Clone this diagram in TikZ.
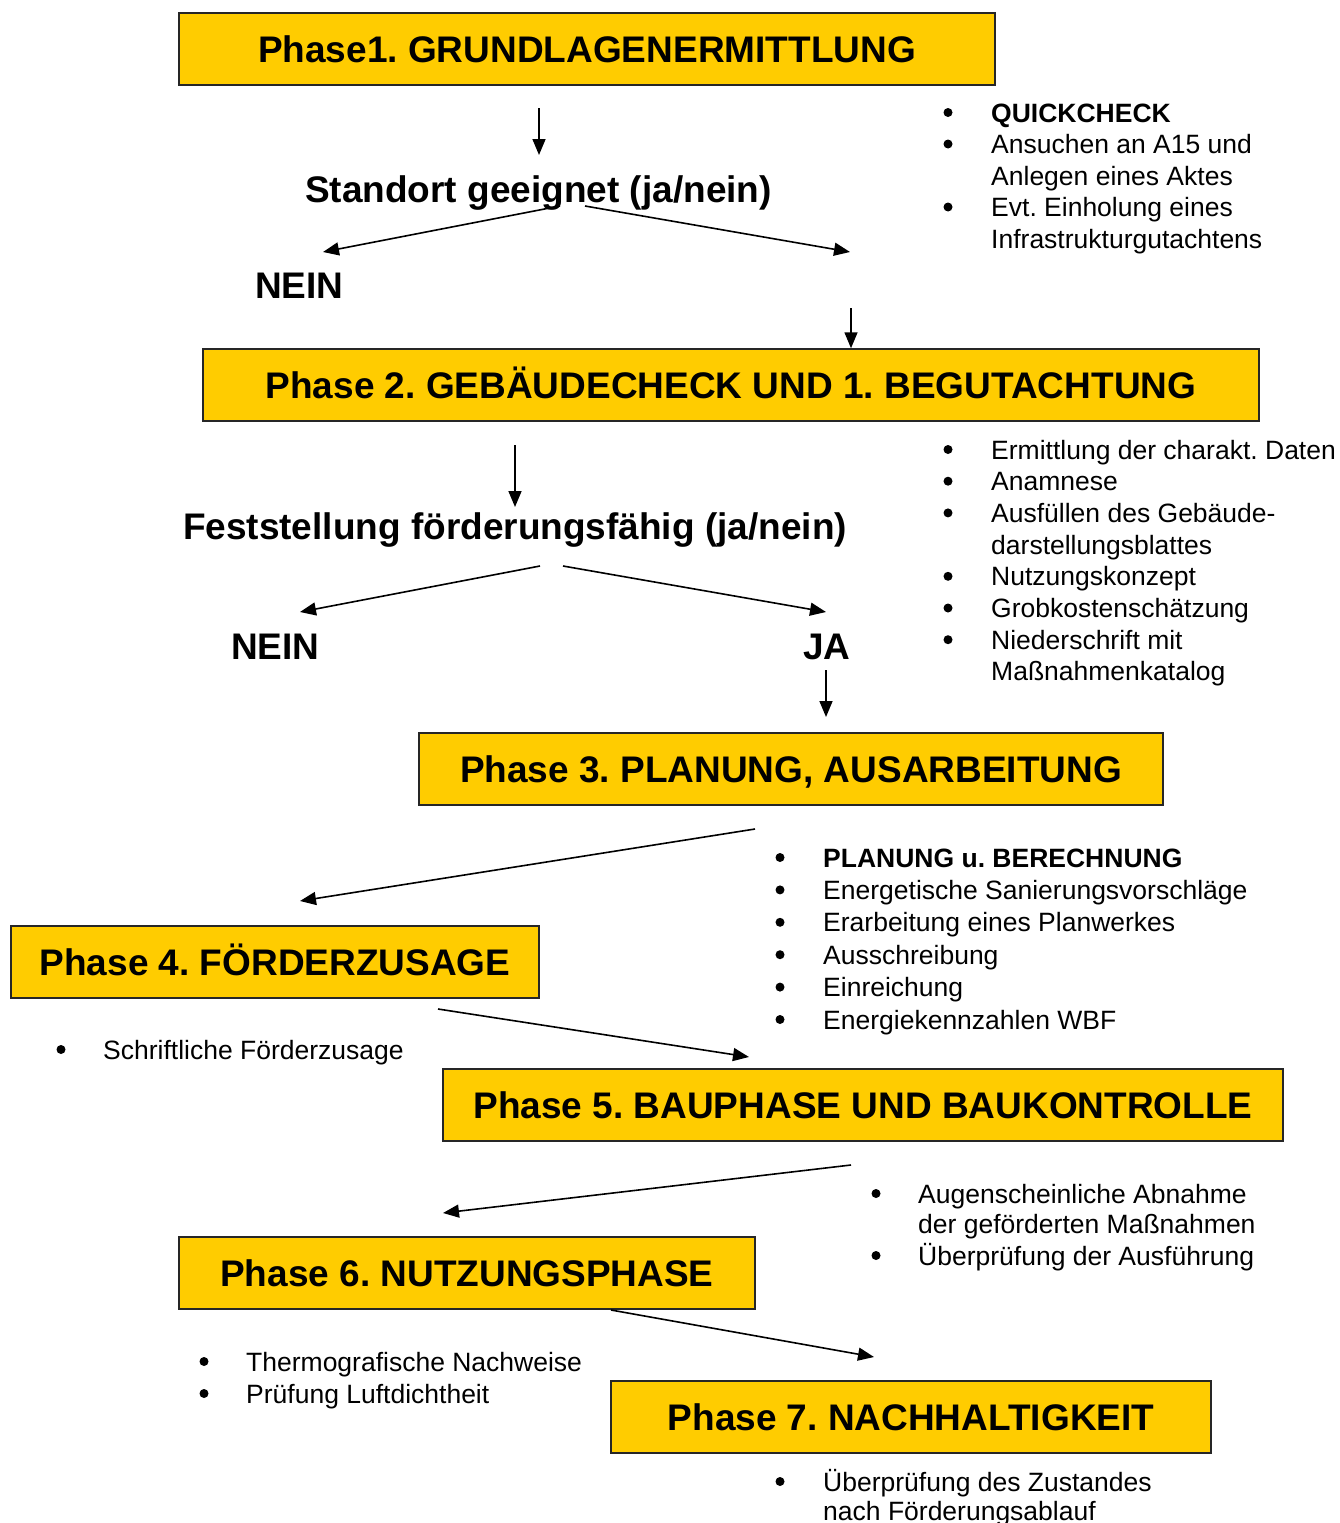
\documentclass[tikz,border=0pt]{standalone}
\usepackage{fontspec}
\setmainfont{Liberation Sans}
\usetikzlibrary{arrows.meta}
\definecolor{boxyellow}{HTML}{FFCC00}
\frenchspacing
\newcommand\bitem[5]{%
  \node[bdot] (#1d) at (#2,#4-9.5) {};
  \node[item] (#1) at (#3,#4) {#5};}
\begin{document}
\frenchspacing
\begin{tikzpicture}[x=1pt,y=-1pt,
  phase/.style={draw=black!85, line width=1.5pt, fill=boxyellow, minimum height=72pt,
    inner sep=0pt, font=\fontsize{37}{44}\bfseries\selectfont, text height=26.5pt, text depth=0pt},
  head/.style={font=\fontsize{37}{44}\bfseries\selectfont, inner sep=0pt, anchor=base},
  item/.style={font=\fontsize{26.5}{32}\selectfont, inner sep=0pt, anchor=base west},
  bdot/.style={circle, fill=black, inner sep=0pt, minimum size=9pt},
  arr/.style={line width=1.6pt, -{Triangle[length=16pt,width=13pt]}}]
\useasboundingbox (0,0) rectangle (1339,1523);
\fill[white] (0,0) rectangle (1339,1523);

% phase boxes
\node[phase, minimum width=816pt] (p1) at (587,49) {Phase1. GRUNDLAGENERMITTLUNG};
\node[phase, minimum width=1056pt] (p2) at (731,385) {Phase 2. GEBÄUDECHECK UND 1. BEGUTACHTUNG};
\node[phase, minimum width=744pt] (p3) at (791,769) {Phase 3. PLANUNG, AUSARBEITUNG};
\node[phase, minimum width=528pt] (p4) at (275,962) {Phase 4. FÖRDERZUSAGE};
\node[phase, minimum width=840pt] (p5) at (863,1105) {Phase 5. BAUPHASE UND BAUKONTROLLE};
\node[phase, minimum width=576pt] (p6) at (467,1273) {Phase 6. NUTZUNGSPHASE};
\node[phase, minimum width=600pt] (p7) at (911,1417) {Phase 7. NACHHALTIGKEIT};

% headings
\node[head] (q1h) at (538.5,202) {Standort geeignet (ja/nein)};
\node[head, anchor=base west] (nein1) at (255,298) {NEIN};
\node[head] (q2h) at (515,539) {Feststellung förderungsfähig (ja/nein)};
\node[head, anchor=base west] (nein2) at (231,659) {NEIN};
\node[head] (ja) at (827,659) {JA};

% connector end points
\coordinate (a1s) at (539,108);  \coordinate (a1e) at (539,155);
\coordinate (a2s) at (560,206);  \coordinate (a2e) at (323,252);
\coordinate (a3s) at (585,206);  \coordinate (a3e) at (850,252);
\coordinate (a4s) at (851,308);
\coordinate (a5s) at (515,445);  \coordinate (a5e) at (515,507);
\coordinate (a6s) at (540,566);  \coordinate (a6e) at (300,612);
\coordinate (a7s) at (563,566);  \coordinate (a7e) at (826,612);
\coordinate (a8s) at (826,670);  \coordinate (a8e) at (826,717);
\coordinate (a9s) at (755,829);  \coordinate (a9e) at (300,901);
\coordinate (a10s) at (438,1009); \coordinate (a10e) at (749,1057);
\coordinate (a11s) at (851,1165); \coordinate (a11e) at (443,1213);
\coordinate (a12s) at (611,1310); \coordinate (a12e) at (874,1357);

\draw[arr] (a1s) -- (a1e);
\draw[arr] (a2s) -- (a2e);
\draw[arr] (a3s) -- (a3e);
\draw[arr] (a4s) -- (a4s |- p2.north);
\draw[arr] (a5s) -- (a5e);
\draw[arr] (a6s) -- (a6e);
\draw[arr] (a7s) -- (a7e);
\draw[arr] (a8s) -- (a8e);
\draw[arr] (a9s) -- (a9e);
\draw[arr] (a10s) -- (a10e);
\draw[arr] (a11s) -- (a11e);
\draw[arr] (a12s) -- (a12e);

% list 1
\bitem{l1a}{948}{991}{122}{\textbf{QUICKCHECK}}
\bitem{l1b}{948}{991}{153.5}{Ansuchen an A15 und}
\node[item] (l1c) at (991,185) {Anlegen eines Aktes};
\bitem{l1d}{948}{991}{216.5}{Evt. Einholung eines}
\node[item] (l1e) at (991,248) {Infrastrukturgutachtens};

% list 2
\bitem{l2a}{948}{991}{459}{Ermittlung der charakt. Daten}
\bitem{l2b}{948}{991}{490.7}{Anamnese}
\bitem{l2c}{948}{991}{522.4}{Ausfüllen des Gebäude-}
\node[item] (l2d) at (991,554.1) {darstellungsblattes};
\bitem{l2e}{948}{991}{585.8}{Nutzungskonzept}
\bitem{l2f}{948}{991}{617.5}{Grobkostenschätzung}
\bitem{l2g}{948}{991}{649.2}{Niederschrift mit}
\node[item] (l2h) at (991,680.9) {Maßnahmenkatalog};

% list 3
\bitem{l3a}{780}{823}{867}{\textbf{PLANUNG u. BERECHNUNG}}
\bitem{l3b}{780}{823}{899.4}{Energetische Sanierungsvorschläge}
\bitem{l3c}{780}{823}{931.8}{Erarbeitung eines Planwerkes}
\bitem{l3d}{780}{823}{964.2}{Ausschreibung}
\bitem{l3e}{780}{823}{996.6}{Einreichung}
\bitem{l3f}{780}{823}{1029}{Energiekennzahlen WBF}

% list 4
\bitem{l4a}{61}{103}{1059}{Schriftliche Förderzusage}

% list 5
\bitem{l5a}{876}{918}{1203}{Augenscheinliche Abnahme}
\node[item] (l5b) at (918,1233.5) {der geförderten Maßnahmen};
\bitem{l5c}{876}{918}{1265}{Überprüfung der Ausführung}

% list 6
\bitem{l6a}{204}{246}{1371}{Thermografische Nachweise}
\bitem{l6b}{204}{246}{1403}{Prüfung Luftdichtheit}

% list 7
\bitem{l7a}{780}{823}{1491}{Überprüfung des Zustandes}
\node[item] (l7b) at (823,1520) {nach Förderungsablauf};
\end{tikzpicture}
\end{document}
